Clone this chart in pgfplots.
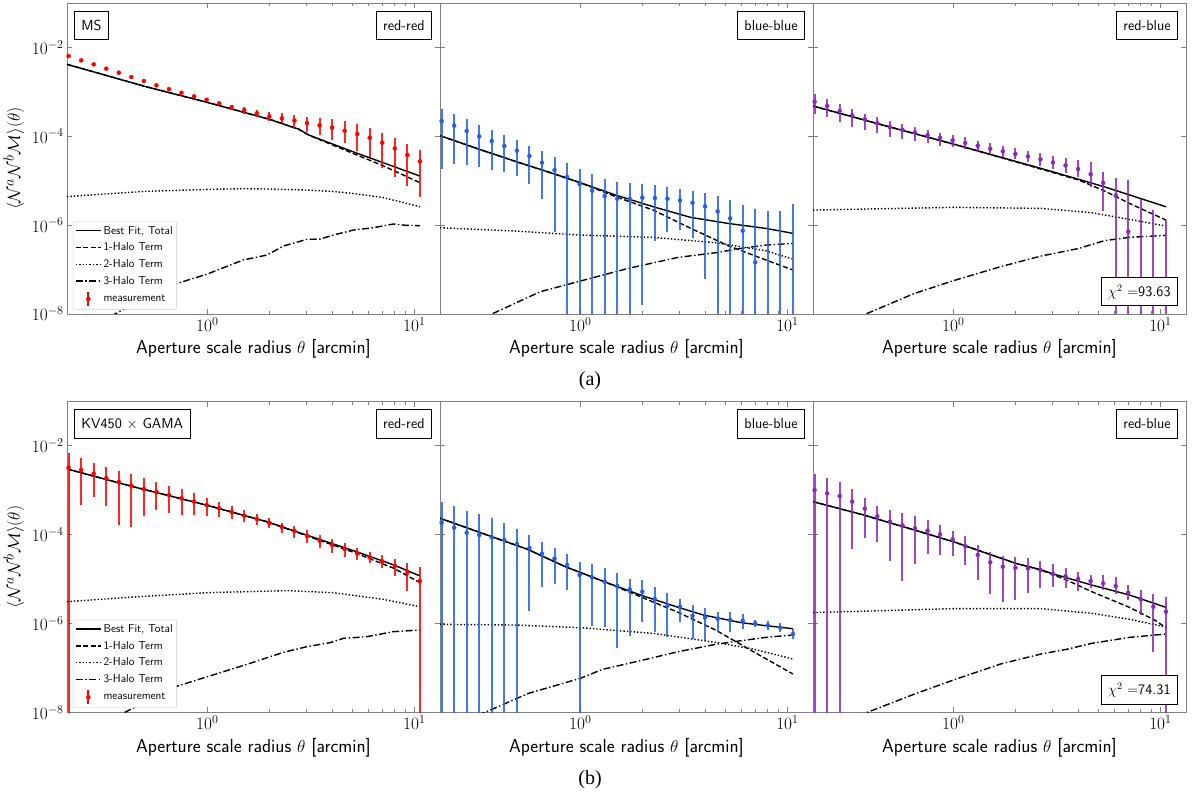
\documentclass[border=0pt]{standalone}
\usepackage{fontspec}
\newfontfamily\timesf{Liberation Serif}
\usepackage{pgfplots}
\usepackage{pgfplotstable}
\pgfplotsset{compat=1.18}
\definecolor{mred}{RGB}{255,0,0}
\definecolor{mblue}{RGB}{35,95,232}
\definecolor{mpurple}{RGB}{140,40,185}

\pgfplotstableread{
x y lo hi
0.2138 6.38e-3 6.00e-3 6.76e-3
0.2458 5.10e-3 4.79e-3 5.41e-3
0.2826 4.14e-3 3.89e-3 4.39e-3
0.3249 3.31e-3 3.11e-3 3.51e-3
0.3736 2.69e-3 2.53e-3 2.85e-3
0.4295 2.15e-3 2.02e-3 2.28e-3
0.4938 1.75e-3 1.64e-3 1.86e-3
0.5678 1.40e-3 1.31e-3 1.49e-3
0.6528 1.15e-3 1.07e-3 1.23e-3
0.7505 9.54e-4 8.87e-4 1.02e-3
0.8630 7.89e-4 7.30e-4 8.50e-4
0.9922 6.64e-4 6.10e-4 7.20e-4
1.1408 5.49e-4 5.00e-4 6.00e-4
1.3116 4.54e-4 4.10e-4 5.00e-4
1.5080 3.89e-4 3.16e-4 4.62e-4
1.7338 3.27e-4 2.66e-4 3.89e-4
1.9934 2.80e-4 2.24e-4 3.51e-4
2.2919 2.52e-4 1.95e-4 3.27e-4
2.6352 2.24e-4 1.50e-4 3.00e-4
3.0298 1.98e-4 1.26e-4 2.75e-4
3.4834 1.76e-4 1.06e-4 2.61e-4
4.0050 1.56e-4 8.20e-5 2.44e-4
4.6047 1.33e-4 7.15e-5 2.24e-4
5.2943 1.12e-4 4.72e-5 1.85e-4
6.0870 9.27e-5 3.46e-5 1.56e-4
6.9984 7.15e-5 1.89e-5 1.20e-4
8.0464 5.33e-5 1.23e-5 9.27e-5
9.2514 3.77e-5 7.71e-6 6.67e-5
10.637 2.72e-5 4.21e-6 4.89e-5
}\Tone

\pgfplotstableread{
x y lo hi
0.2138 2.20e-4 1.83e-5 4.09e-4
0.2458 1.73e-4 2.33e-5 3.16e-4
0.2826 1.31e-4 2.25e-5 2.40e-4
0.3249 9.93e-5 1.99e-5 1.79e-4
0.3736 7.80e-5 1.71e-5 1.36e-4
0.4295 6.02e-5 1.54e-5 1.04e-4
0.4938 4.72e-5 1.29e-5 8.07e-5
0.5678 3.58e-5 8.40e-6 6.12e-5
0.6528 2.54e-5 3.86e-6 4.65e-5
0.7505 1.73e-5 7.10e-7 3.40e-5
0.8630 1.21e-5 1e-12 2.49e-5
0.9922 8.40e-6 1e-12 1.83e-5
1.1408 5.94e-6 1e-12 1.39e-5
1.3116 4.51e-6 1e-12 1.07e-5
1.5080 3.93e-6 1e-12 9.16e-6
1.7338 3.86e-6 1e-12 8.69e-6
1.9934 4.14e-6 1.59e-8 8.40e-6
2.2919 4.07e-6 4.38e-7 7.83e-6
2.6352 3.93e-6 6.86e-7 7.19e-6
3.0298 3.60e-6 7.74e-7 6.49e-6
3.4834 3.19e-6 5.20e-7 5.74e-6
4.0050 2.64e-6 6.01e-8 5.18e-6
4.6047 2.04e-6 1e-12 4.51e-6
5.2943 1.42e-6 1e-12 3.60e-6
6.0870 7.48e-7 1e-12 2.78e-6
6.9984 1.45e-7 1e-12 2.30e-6
8.0464 nan 1e-12 2.11e-6
9.2514 nan 1e-12 2.11e-6
10.637 nan 1e-12 2.98e-6
}\Ttwo

\pgfplotstableread{
x y lo hi
0.2138 5.98e-4 3.10e-4 8.75e-4
0.2458 4.79e-4 2.75e-4 6.76e-4
0.2826 3.69e-4 2.05e-4 5.31e-4
0.3249 2.95e-4 1.64e-4 4.09e-4
0.3736 2.40e-4 1.38e-4 3.16e-4
0.4295 1.95e-4 1.16e-4 2.66e-4
0.4938 1.61e-4 9.75e-5 2.24e-4
0.5678 1.40e-4 8.49e-5 1.88e-4
0.6528 1.22e-4 7.66e-5 1.61e-4
0.7505 1.05e-4 6.90e-5 1.38e-4
0.8630 9.27e-5 6.12e-5 1.20e-4
0.9922 8.07e-5 5.81e-5 1.06e-4
1.1408 7.03e-5 5.24e-5 9.42e-5
1.3116 6.12e-5 4.72e-5 7.93e-5
1.5080 5.24e-5 3.97e-5 6.90e-5
1.7338 4.56e-5 3.34e-5 6.12e-5
1.9934 3.97e-5 3.01e-5 5.33e-5
2.2919 3.52e-5 2.62e-5 4.72e-5
2.6352 3.01e-5 2.17e-5 4.11e-5
3.0298 2.58e-5 1.83e-5 3.65e-5
3.4834 2.21e-5 1.51e-5 3.18e-5
4.0050 1.83e-5 1.19e-5 2.91e-5
4.6047 1.39e-5 7.31e-6 2.58e-5
5.2943 8.99e-6 2.07e-6 1.59e-5
6.0870 4.59e-6 1e-12 1.13e-5
6.9984 7.10e-7 1e-12 1.03e-5
8.0464 nan 1e-12 3.79e-6
9.2514 nan 1e-12 2.18e-6
10.637 nan 1e-12 1.30e-6
}\Tthree

\pgfplotstableread{
x y lo hi
0.2138 3.20e-3 1e-12 6.71e-3
0.2458 2.83e-3 4.62e-4 5.19e-3
0.2826 2.34e-3 7.11e-4 4.00e-3
0.3249 1.84e-3 4.39e-4 3.25e-3
0.3736 1.52e-3 1.64e-4 2.74e-3
0.4295 1.26e-3 1.50e-4 2.30e-3
0.4938 1.06e-3 2.61e-4 1.84e-3
0.5678 9.06e-4 3.56e-4 1.55e-3
0.6528 7.76e-4 3.00e-4 1.26e-3
0.7505 6.53e-4 2.75e-4 1.04e-3
0.8630 5.50e-4 2.75e-4 8.45e-4
0.9922 4.62e-4 2.61e-4 6.76e-4
1.1408 3.89e-4 2.52e-4 5.40e-4
1.3116 3.21e-4 2.24e-4 4.39e-4
1.5080 2.66e-4 1.95e-4 3.56e-4
1.7338 2.24e-4 1.64e-4 2.90e-4
1.9934 1.82e-4 1.38e-4 2.32e-4
2.2919 1.48e-4 1.10e-4 1.85e-4
2.6352 1.20e-4 8.20e-5 1.56e-4
3.0298 9.27e-5 6.34e-5 1.26e-4
3.4834 7.28e-5 4.89e-5 9.75e-5
4.0050 5.81e-5 3.91e-5 7.80e-5
4.6047 4.72e-5 3.18e-5 6.34e-5
5.2943 3.78e-5 2.67e-5 5.06e-5
6.0870 3.07e-5 2.25e-5 4.11e-5
6.9984 2.49e-5 1.73e-5 3.46e-5
8.0464 1.96e-5 1.19e-5 2.77e-5
9.2514 1.39e-5 5.46e-6 2.25e-5
10.637 8.99e-6 1e-12 1.83e-5
}\Tfour

\pgfplotstableread{
x y lo hi
0.2138 1.85e-4 1e-12 5.50e-4
0.2458 1.43e-4 1e-12 4.39e-4
0.2826 1.10e-4 1e-12 3.44e-4
0.3249 9.75e-5 1e-12 2.90e-4
0.3736 8.65e-5 1e-12 2.36e-4
0.4295 7.53e-5 1e-12 1.82e-4
0.4938 6.12e-5 1e-12 1.36e-4
0.5678 4.98e-5 1.90e-6 9.75e-5
0.6528 3.71e-5 6.59e-6 6.79e-5
0.7505 2.86e-5 7.83e-6 4.98e-5
0.8630 2.06e-5 5.55e-6 3.58e-5
0.9922 1.23e-5 1e-12 2.41e-5
1.1408 1.09e-5 8.89e-7 2.13e-5
1.3116 8.69e-6 8.44e-7 1.73e-5
1.5080 6.95e-6 2.84e-7 1.34e-5
1.7338 5.85e-6 5.20e-7 9.82e-6
1.9934 5.18e-6 1.06e-6 9.48e-6
2.2919 3.54e-6 6.25e-7 6.71e-6
2.6352 2.51e-6 4.94e-7 4.75e-6
3.0298 2.38e-6 1.06e-6 3.48e-6
3.4834 1.49e-6 4.38e-7 2.59e-6
4.0050 1.37e-6 4.23e-7 2.18e-6
4.6047 1.28e-6 6.30e-7 1.81e-6
5.2943 1.19e-6 6.30e-7 1.81e-6
6.0870 1.15e-6 7.60e-7 1.63e-6
6.9984 1.00e-6 8.30e-7 1.19e-6
8.0464 9.06e-7 7.10e-7 1.13e-6
9.2514 8.02e-7 6.30e-7 1.04e-6
10.637 5.77e-7 4.46e-7 7.60e-7
}\Tfive

\pgfplotstableread{
x y lo hi
0.2138 1.00e-3 1e-12 2.30e-3
0.2458 8.45e-4 1e-12 1.91e-3
0.2826 7.36e-4 1e-12 1.50e-3
0.3249 5.50e-4 4.72e-5 1.04e-3
0.3736 3.82e-4 8.20e-5 6.64e-4
0.4295 2.57e-4 6.90e-5 4.39e-4
0.4938 1.95e-4 2.49e-5 3.56e-4
0.5678 1.61e-4 9.16e-6 3.10e-4
0.6528 1.38e-4 2.17e-5 2.61e-4
0.7505 1.22e-4 3.65e-5 2.12e-4
0.8630 1.01e-4 3.46e-5 1.64e-4
0.9922 7.80e-5 3.34e-5 1.20e-4
1.1408 5.52e-5 2.06e-5 9.27e-5
1.3116 3.46e-5 9.48e-6 5.81e-5
1.5080 2.37e-5 4.51e-6 4.11e-5
1.7338 1.89e-5 2.98e-6 3.29e-5
1.9934 1.79e-5 3.37e-6 3.18e-5
2.2919 1.73e-5 4.75e-6 2.96e-5
2.6352 1.59e-5 6.15e-6 2.54e-5
3.0298 1.29e-5 6.71e-6 2.13e-5
3.4834 1.15e-5 6.15e-6 1.73e-5
4.0050 9.98e-6 5.46e-6 1.46e-5
4.6047 8.99e-6 6.15e-6 1.23e-5
5.2943 7.98e-6 5.65e-6 1.23e-5
6.0870 6.95e-6 4.59e-6 1.13e-5
6.9984 4.92e-6 3.37e-6 7.19e-6
8.0464 3.48e-6 1.52e-6 5.65e-6
9.2514 2.38e-6 2.23e-7 4.51e-6
10.637 1.84e-6 1e-12 4.00e-6
}\Tsix

\tikzset{boxlab/.style={draw=black, fill=white, line width=0.8pt,
  font=\fontsize{14.5}{16}\selectfont\sffamily, inner xsep=7pt, inner ysep=0pt,
  minimum height=28.5pt, text height=10pt, text depth=0pt}}
\tikzset{
  ctot/.style={black, solid, line width=1.4pt},
  cone/.style={black, line width=1.4pt, dash pattern=on 5pt off 2.5pt},
  ctwo/.style={black, line width=1.4pt, dash pattern=on 1.4pt off 2pt},
  cthree/.style={black, line width=1.4pt, dash pattern=on 7pt off 2.5pt on 1.4pt off 2.5pt},
}

\pgfplotsset{
  every axis/.append style={
    xmode=log, ymode=log, scale only axis, width=373pt, height=310.7pt,
    anchor=south west,
    xmin=0.21, xmax=13.3, ymin=1e-8, ymax=0.098,
    xtick={1,10}, ytick={1e-8,1e-6,1e-4,1e-2}, yminorticks=false,
    tick align=inside,
    axis line style={draw=gray, line width=0.9pt},
    tick style={draw=gray, line width=0.7pt},
    major tick length=5pt, minor tick length=3pt,
    tick label style={font=\fontsize{18}{20}\selectfont},
    xlabel={Aperture scale radius $\theta$ [arcmin]},
    xlabel style={font=\fontsize{18.8}{21}\selectfont\sffamily,
      at={(axis description cs:0.5,0)}, anchor=base, yshift=-40pt},
    ylabel style={font=\fontsize{19}{21}\selectfont,
      at={(axis description cs:0,0.5)}, anchor=center, yshift=53pt},
    legend style={at={(0.016,0.014)}, anchor=south west,
      font=\sffamily\addfontfeatures{LetterSpace=6}\fontsize{11.5}{13}\selectfont,
      draw=black!20, rounded corners=2pt, inner xsep=2pt, inner ysep=2.5pt,
      row sep=3.3pt, cells={anchor=west}},
  },
  legend image code/.code={\draw[#1] (0pt,0pt) -- (25pt,0pt);},
}

\newcommand{\meas}[2]{%
  \addplot[forget plot, only marks, mark=*, mark size=0pt,
    mark options={draw opacity=0, fill opacity=0},
    error bars/.cd, y dir=plus, y explicit, error mark=none,
    error bar style={line width=2pt, #2, opacity=0.85, draw opacity=0.85}]
    table[x=x, y=lo, y error expr=\thisrow{hi}-\thisrow{lo}] {#1};
  \addplot[forget plot, only marks, mark=*, mark size=2pt, #2] table[x=x, y=y] {#1};
}
\newcommand{\measleg}{%
  \addlegendimage{legend image code/.code={\draw[mred, line width=1.8pt] (12.5pt,-7pt) -- (12.5pt,7pt); \fill[mred] (12.5pt,0pt) circle (2pt);}}
  \addlegendentry{measurement}
}

\begin{document}
\begin{tikzpicture}
\useasboundingbox (0pt,0pt) rectangle (1200pt,797pt);

% ---------- Row (a) ----------
\begin{axis}[at={(67pt,483pt)}, ylabel={$\langle\mathcal{N}^a\mathcal{N}^b\mathcal{M}\rangle(\theta)$}]
\addplot[ctot] coordinates {(0.21,4.14e-3) (0.3,2.60e-3) (0.5,1.32e-3) (1,5.78e-4) (2,2.40e-4) (2.6,1.58e-4) (2.75,1.46e-4) (3.1,1.06e-4) (5,4.56e-5) (7,2.58e-5) (10.64,1.27e-5)};
\addlegendentry{Best Fit, Total}
\addplot[cone] coordinates {(0.21,4.14e-3) (0.3,2.60e-3) (0.5,1.32e-3) (1,5.78e-4) (2,2.40e-4) (2.6,1.58e-4) (2.75,1.46e-4) (3.1,1.05e-4) (5,4.19e-5) (7,2.21e-5) (10.64,8.99e-6)};
\addlegendentry{1-Halo Term}
\addplot[ctwo] coordinates {(0.21,4.36e-6) (0.3,4.92e-6) (0.5,5.74e-6) (1,6.37e-6) (1.5,6.59e-6) (2,6.48e-6) (3,6.15e-6) (4,5.74e-6) (5,5.18e-6) (7,4.21e-6) (10.64,2.59e-6)};
\addlegendentry{2-Halo Term}
\addplot[cthree] coordinates {(0.3,6.5e-9) (0.358,1.0e-8) (0.636,4.11e-8) (1.0,7.93e-8) (1.49,1.64e-7) (1.94,2.12e-7) (2.33,3.38e-7) (3.02,4.78e-7) (3.5,4.85e-7) (4.06,5.97e-7) (5.07,7.74e-7) (6.34,8.73e-7) (7.91,1.06e-6) (9.18,9.86e-7) (10.64,9.68e-7)};
\addlegendentry{3-Halo Term}
\meas{\Tone}{mred}
\measleg
\node[boxlab, anchor=north west, xshift=7pt, yshift=-7.5pt] at (rel axis cs:0,1) {MS};
\node[boxlab, anchor=north east, xshift=-8pt, yshift=-7.5pt] at (rel axis cs:1,1) {red-red};
\end{axis}

\begin{axis}[at={(440pt,483pt)}, yticklabels={}]
\addplot[ctot] coordinates {(0.21,1.03e-4) (0.319,5.24e-5) (0.485,2.72e-5) (0.735,1.46e-5) (1.0,8.99e-6) (1.48,4.75e-6) (2.25,2.59e-6) (3.42,1.49e-6) (5.18,1.09e-6) (7.88,8.44e-7) (10.64,6.52e-7)};
\addplot[cone] coordinates {(0.21,1.03e-4) (0.319,5.24e-5) (0.485,2.72e-5) (0.735,1.46e-5) (1.0,8.99e-6) (1.48,4.36e-6) (2.25,2.18e-6) (3.42,8.44e-7) (5.18,3.44e-7) (7.88,1.64e-7) (10.64,9.75e-8)};
\addplot[ctwo] coordinates {(0.21,8.73e-7) (0.485,7.35e-7) (1.0,5.97e-7) (2.25,5.29e-7) (4.5,4.02e-7) (7.88,2.65e-7) (10.64,1.72e-7)};
\addplot[cthree] coordinates {(0.288,5.73e-9) (0.374,1.0e-8) (0.640,3.17e-8) (1.0,5.51e-8) (1.70,1.06e-7) (2.97,1.88e-7) (4.50,2.39e-7) (5.97,2.99e-7) (7.88,3.56e-7) (10.64,3.88e-7)};
\meas{\Ttwo}{mblue}
\node[boxlab, anchor=north east, xshift=-8pt, yshift=-7.5pt] at (rel axis cs:1,1) {blue-blue};
\end{axis}

\begin{axis}[at={(813pt,483pt)}, yticklabels={}]
\addplot[ctot] coordinates {(0.21,4.79e-4) (0.455,1.79e-4) (1.0,6.67e-5) (2.65,1.89e-5) (5.35,7.31e-6) (10.64,2.59e-6)};
\addplot[cone] coordinates {(0.21,4.79e-4) (0.455,1.79e-4) (1.0,6.67e-5) (2.65,1.83e-5) (4.04,1.03e-5) (5.35,5.94e-6) (7.09,3.08e-6) (10.64,1.30e-6)};
\addplot[ctwo] coordinates {(0.21,2.18e-6) (1.0,2.51e-6) (2.65,2.38e-6) (4.66,1.90e-6) (7.09,1.35e-6) (10.64,9.53e-7)};
\addplot[cthree] coordinates {(0.291,5.64e-9) (0.378,1.0e-8) (0.650,2.91e-8) (1.0,5.61e-8) (1.69,1.16e-7) (2.65,2.01e-7) (4.04,2.99e-7) (5.35,4.46e-7) (7.09,5.30e-7) (10.64,5.87e-7)};
\meas{\Tthree}{mpurple}
\node[boxlab, anchor=north east, xshift=-8pt, yshift=-7.5pt] at (rel axis cs:1,1) {red-blue};
\node[boxlab, anchor=south east, xshift=-8pt, yshift=8pt] at (rel axis cs:1,0) {$\chi^2$ $=$93.63};
\end{axis}

% ---------- Row (b) ----------
\begin{axis}[at={(67pt,84.7pt)}, ylabel={$\langle\mathcal{N}^a\mathcal{N}^b\mathcal{M}\rangle(\theta)$}]
\addplot[ctot] coordinates {(0.21,2.99e-3) (0.439,1.19e-3) (1.0,4.54e-4) (1.935,1.95e-4) (3.01,9.75e-5) (5.25,4.11e-5) (7.98,2.06e-5) (10.64,1.17e-5)};
\addlegendentry{Best Fit, Total}
\addplot[cone] coordinates {(0.21,2.99e-3) (0.439,1.19e-3) (1.0,4.54e-4) (1.935,1.95e-4) (3.01,9.42e-5) (5.25,3.78e-5) (7.98,1.73e-5) (10.64,8.26e-6)};
\addlegendentry{1-Halo Term}
\addplot[ctwo] coordinates {(0.21,3.08e-6) (0.439,3.93e-6) (1.0,4.92e-6) (2.42,5.46e-6) (4.06,4.92e-6) (7.08,3.48e-6) (10.64,2.38e-6)};
\addlegendentry{2-Halo Term}
\addplot[cthree] coordinates {(0.303,5.74e-9) (0.400,1.0e-8) (0.685,3.64e-8) (1.0,6.32e-8) (1.52,1.16e-7) (2.33,2.23e-7) (3.02,2.99e-7) (3.91,3.68e-7) (4.54,4.61e-7) (5.89,5.02e-7) (7.91,6.52e-7) (10.64,7.10e-7)};
\addlegendentry{3-Halo Term}
\meas{\Tfour}{mred}
\measleg
\node[boxlab, anchor=north west, xshift=7pt, yshift=-7.5pt] at (rel axis cs:0,1) {KV450 $\times$ GAMA};
\node[boxlab, anchor=north east, xshift=-8pt, yshift=-7.5pt] at (rel axis cs:1,1) {red-red};
\end{axis}

\begin{axis}[at={(440pt,84.7pt)}, yticklabels={}]
\addplot[ctot] coordinates {(0.21,2.32e-4) (0.366,9.27e-5) (0.556,4.65e-5) (0.846,1.89e-5) (1.28,8.99e-6) (1.95,4.36e-6) (2.97,2.30e-6) (3.92,1.55e-6) (5.97,1.04e-6) (7.88,8.89e-7) (10.64,7.60e-7)};
\addplot[cone] coordinates {(0.21,2.32e-4) (0.366,9.27e-5) (0.556,4.65e-5) (0.846,1.89e-5) (1.28,8.99e-6) (1.95,4.00e-6) (2.97,1.77e-6) (4.50,7.10e-7) (6.85,2.31e-7) (10.64,7.26e-8)};
\addplot[ctwo] coordinates {(0.21,9.53e-7) (0.485,9.20e-7) (1.0,8.02e-7) (2.25,5.97e-7) (4.50,3.75e-7) (6.85,2.65e-7) (10.64,1.58e-7)};
\addplot[cthree] coordinates {(0.278,6.93e-9) (0.347,1.0e-8) (0.562,2.67e-8) (1.0,5.81e-8) (1.28,9.25e-8) (1.95,1.45e-7) (2.97,2.31e-7) (4.50,3.38e-7) (5.97,4.08e-7) (7.88,4.85e-7) (10.64,5.48e-7)};
\meas{\Tfive}{mblue}
\node[boxlab, anchor=north east, xshift=-8pt, yshift=-7.5pt] at (rel axis cs:1,1) {blue-blue};
\end{axis}

\begin{axis}[at={(813pt,84.7pt)}, yticklabels={}]
\addplot[ctot] coordinates {(0.21,5.50e-4) (0.369,2.75e-4) (0.650,1.26e-4) (1.0,6.90e-5) (2.0,2.25e-5) (2.65,1.62e-5) (3.05,1.29e-5) (4.66,7.31e-6) (7.09,4.36e-6) (10.64,2.30e-6)};
\addplot[cone] coordinates {(0.21,5.50e-4) (0.369,2.75e-4) (0.650,1.26e-4) (1.0,6.90e-5) (2.0,2.25e-5) (2.65,1.59e-5) (3.52,9.48e-6) (4.66,5.18e-6) (7.09,2.30e-6) (9.38,1.19e-6) (10.64,8.02e-7)};
\addplot[ctwo] coordinates {(0.21,1.75e-6) (1.0,2.15e-6) (2.65,2.15e-6) (4.66,1.69e-6) (7.09,1.24e-6) (10.64,8.30e-7)};
\addplot[cthree] coordinates {(0.302,6.47e-9) (0.385,1.0e-8) (0.650,2.58e-8) (1.0,5.32e-8) (1.69,1.22e-7) (2.65,2.05e-7) (3.52,2.61e-7) (4.66,3.56e-7) (7.09,4.85e-7) (10.64,5.77e-7)};
\meas{\Tsix}{mpurple}
\node[boxlab, anchor=north east, xshift=-8pt, yshift=-7.5pt] at (rel axis cs:1,1) {red-blue};
\node[boxlab, anchor=south east, xshift=-8pt, yshift=8pt] at (rel axis cs:1,0) {$\chi^2$ $=$74.31};
\end{axis}

\node[font=\timesf\fontsize{20}{22}\selectfont, anchor=base] at (590pt,411pt) {(a)};
\node[font=\timesf\fontsize{20}{22}\selectfont, anchor=base] at (590pt,12pt) {(b)};
\end{tikzpicture}
\end{document}
